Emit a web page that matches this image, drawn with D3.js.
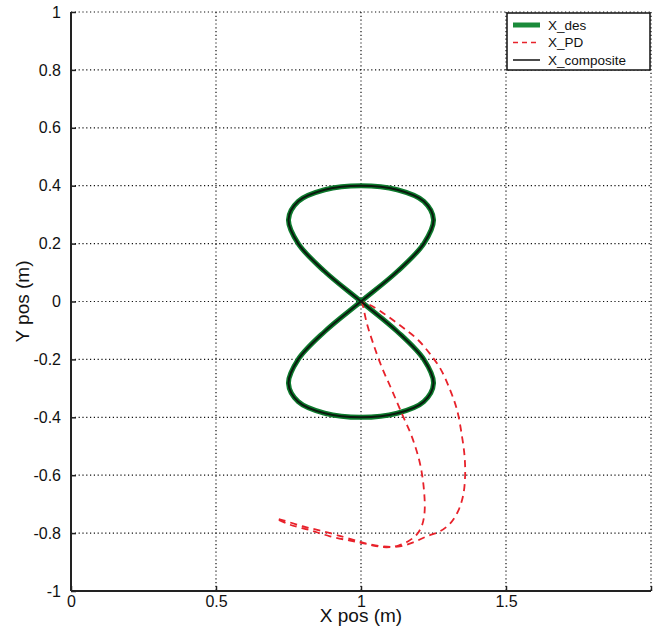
<!DOCTYPE html>
<html>
<head>
<meta charset="utf-8">
<script src="https://cdn.jsdelivr.net/npm/d3@7"></script>
<style>
  body { margin: 0; background: #fff; }
  text { font-family: "Liberation Sans", Arial, sans-serif; fill: #111; }
  .grid line { stroke: #111; stroke-width: 1.2; stroke-dasharray: 1.2, 2.6; }
</style>
</head>
<body>
<div id="chart"></div>
<script>
// desired trajectory (figure eight)
const desX = [1.0, 1.125, 1.2165, 1.25, 1.2165, 1.125, 1.0, 0.875, 0.7835, 0.75, 0.7835, 0.875,
  1.0, 1.125, 1.2165, 1.25, 1.2165, 1.125, 1.0, 0.875, 0.7835, 0.75, 0.7835, 0.875];
const desY = [0.0, 0.1035, 0.2, 0.283, 0.346, 0.386, 0.4, 0.386, 0.346, 0.283, 0.2, 0.1035,
  0.0, -0.1035, -0.2, -0.283, -0.346, -0.386, -0.4, -0.386, -0.346, -0.283, -0.2, -0.1035];

// composite controller tracks the desired path
const compositeX = desX.slice();
const compositeY = desY.slice();

// PD controller trajectory
const pdX = [1.0, 1.004, 1.02, 1.042, 1.071, 1.106, 1.14, 1.175, 1.203, 1.217, 1.219, 1.209, 1.192,
  1.163, 1.129, 1.089, 1.042, 0.997, 0.939, 0.87, 0.801, 0.732, 0.709,
  0.755, 0.824, 0.893, 0.962, 1.019, 1.077, 1.134, 1.18, 1.227, 1.272, 1.307, 1.334, 1.352,
  1.359, 1.357, 1.348, 1.331, 1.307, 1.276, 1.238, 1.197, 1.155, 1.11, 1.066, 1.031, 1.003];
const pdY = [0.0, -0.006, -0.075, -0.145, -0.225, -0.305, -0.385, -0.466, -0.558, -0.65, -0.73, -0.777, -0.805,
  -0.828, -0.843, -0.849, -0.843, -0.83, -0.813, -0.794, -0.777, -0.756, -0.75,
  -0.771, -0.79, -0.811, -0.826, -0.837, -0.846, -0.846, -0.832, -0.811, -0.794, -0.767, -0.726, -0.671,
  -0.602, -0.533, -0.464, -0.374, -0.305, -0.236, -0.181, -0.133, -0.098, -0.064, -0.033, -0.012, -0.002];

const xTicks = [0, 0.5, 1, 1.5, 2];
const xTickLabels = ["0", "0.5", "1", "1.5", ""];
const yTicks = [-1, -0.8, -0.6, -0.4, -0.2, 0, 0.2, 0.4, 0.6, 0.8, 1];
const yTickLabels = ["-1", "-0.8", "-0.6", "-0.4", "-0.2", "0", "0.2", "0.4", "0.6", "0.8", "1"];

const seriesNames = ["X_des", "X_PD", "X_composite"];

const config = {
  width: 658,
  height: 632,
  margin: { top: 12, right: 7, bottom: 41, left: 71 },
};
const innerW = config.width - config.margin.left - config.margin.right;
const innerH = config.height - config.margin.top - config.margin.bottom;

const svg = d3
  .select("#chart")
  .append("svg")
  .attr("width", config.width)
  .attr("height", config.height);

const g = svg
  .append("g")
  .attr("transform", `translate(${config.margin.left},${config.margin.top})`);

const x = d3.scaleLinear().domain([0, 2]).range([0, innerW]);
const y = d3.scaleLinear().domain([-1, 1]).range([innerH, 0]);

// dotted grid
const grid = g.append("g").attr("class", "grid");
grid
  .selectAll(".vgrid")
  .data(xTicks.filter((d) => d > 0))
  .join("line")
  .attr("x1", (d) => x(d))
  .attr("x2", (d) => x(d))
  .attr("y1", 0)
  .attr("y2", innerH);
grid
  .selectAll(".hgrid")
  .data(yTicks.filter((d) => d > -1))
  .join("line")
  .attr("x1", 0)
  .attr("x2", innerW)
  .attr("y1", (d) => y(d))
  .attr("y2", (d) => y(d));

// axes
const xAxis = g
  .append("g")
  .attr("transform", `translate(0,${innerH})`)
  .call(
    d3.axisBottom(x)
      .tickValues(xTicks)
      .tickSize(-5)
      .tickPadding(5)
      .tickFormat((d, i) => xTickLabels[i])
  );
const yAxis = g.append("g").call(
  d3.axisLeft(y)
    .tickValues(yTicks)
    .tickSize(-5)
    .tickPadding(10)
    .tickFormat((d, i) => yTickLabels[i])
);
[xAxis, yAxis].forEach((a) => {
  a.select(".domain").attr("stroke", "#222").attr("stroke-width", 2);
  a.selectAll(".tick line").attr("stroke", "#222").attr("stroke-width", 1.5);
  a.selectAll("text").style("font-size", "16px").attr("fill", "#111");
});
xAxis.select(".domain").attr("d", `M0,0H${innerW}`);
yAxis.select(".domain").attr("d", `M0,${innerH}V0`);

// axis titles
svg
  .append("text")
  .attr("x", config.margin.left + x(1))
  .attr("y", 622)
  .style("text-anchor", "middle")
  .style("font-size", "19px")
  .text("X pos (m)");
svg
  .append("text")
  .attr("transform", `translate(29,${config.margin.top + y(0)}) rotate(-90)`)
  .style("text-anchor", "middle")
  .style("font-size", "19px")
  .text("Y pos (m)");

// lines
const toPts = (xs, ys) => xs.map((v, i) => [v, ys[i]]);
const closedLine = d3
  .line()
  .x((d) => x(d[0]))
  .y((d) => y(d[1]))
  .curve(d3.curveCatmullRomClosed.alpha(0.5));
const openLine = d3
  .line()
  .x((d) => x(d[0]))
  .y((d) => y(d[1]))
  .curve(d3.curveCatmullRom.alpha(0.5));

g.append("path")
  .attr("d", closedLine(toPts(desX, desY)))
  .attr("fill", "none")
  .attr("stroke", "#0c7a2c")
  .attr("stroke-width", 5);

g.append("path")
  .attr("d", openLine(toPts(pdX, pdY)))
  .attr("fill", "none")
  .attr("stroke", "#e8222b")
  .attr("stroke-width", 1.8)
  .attr("stroke-dasharray", "7,5");

g.append("path")
  .attr("d", closedLine(toPts(compositeX, compositeY)))
  .attr("fill", "none")
  .attr("stroke", "#0a1a0e")
  .attr("stroke-width", 2);

// legend
const legend = svg.append("g").attr("transform", "translate(507,13)");
legend
  .append("rect")
  .attr("width", 143)
  .attr("height", 57)
  .attr("fill", "#fff")
  .attr("stroke", "#111")
  .attr("stroke-width", 1.5);
const legendStyles = [
  { color: "#1a8a3a", width: 5, dash: null },
  { color: "#e8222b", width: 1.6, dash: "5,4" },
  { color: "#111", width: 1.5, dash: null },
];
const items = legend
  .selectAll(".item")
  .data(seriesNames)
  .join("g")
  .attr("class", "item")
  .attr("transform", (d, i) => `translate(0,${12 + i * 17.5})`);
items
  .append("line")
  .attr("x1", 6)
  .attr("x2", 33)
  .attr("stroke", (d, i) => legendStyles[i].color)
  .attr("stroke-width", (d, i) => legendStyles[i].width)
  .attr("stroke-dasharray", (d, i) => legendStyles[i].dash);
items
  .append("text")
  .attr("x", 41)
  .attr("dy", "0.35em")
  .style("font-size", "13.5px")
  .text((d) => d);
</script>
</body>
</html>
